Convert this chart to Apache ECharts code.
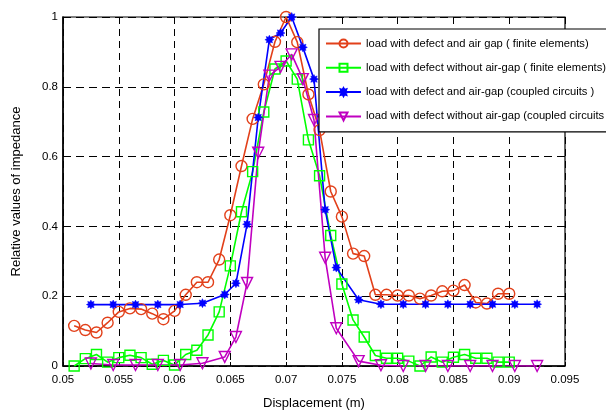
<!DOCTYPE html>
<html>
<head>
<meta charset="utf-8">
<script src="https://cdn.jsdelivr.net/npm/echarts@6/dist/echarts.min.js"></script>
<style>
html,body{margin:0;padding:0;background:#fff;}
#chart{width:606px;height:415px;}
</style>
</head>
<body>
<div id="chart"></div>
<script>
// Finite-element series x positions (m)
const feX = [0.051,0.052,0.053,0.054,0.055,0.056,0.057,0.058,0.059,0.060,
             0.061,0.062,0.063,0.064,0.065,0.066,0.067,0.068,0.069,0.070,
             0.071,0.072,0.073,0.074,0.075,0.076,0.077,0.078,0.079,0.080,
             0.081,0.082,0.083,0.084,0.085,0.086,0.087,0.088,0.089,0.090];
const redY = [0.115,0.103,0.096,0.124,0.155,0.165,0.163,0.150,0.134,0.158,
              0.204,0.240,0.240,0.305,0.432,0.573,0.708,0.807,0.929,1.000,
              0.928,0.778,0.676,0.500,0.428,0.322,0.315,0.204,0.204,0.202,
              0.202,0.193,0.202,0.214,0.216,0.232,0.182,0.179,0.207,0.207];
const greenY = [0.000,0.021,0.033,0.011,0.024,0.031,0.024,0.005,0.016,0.003,
                0.033,0.045,0.089,0.155,0.287,0.442,0.557,0.728,0.851,0.874,
                0.822,0.648,0.545,0.374,0.235,0.132,0.083,0.030,0.022,0.022,
                0.014,0.000,0.026,0.011,0.025,0.033,0.022,0.022,0.011,0.011];
// Coupled-circuit series x positions (m)
const ccX = [0.0525,0.0545,0.0565,0.0585,0.0605,0.0625,0.0645,0.0655,0.0665,0.0675,
             0.0685,0.0695,0.0705,0.0715,0.0725,0.0735,0.0745,0.0765,0.0785,0.0805,
             0.0825,0.0845,0.0865,0.0885,0.0905,0.0925];
const blueY = [0.176,0.176,0.176,0.176,0.176,0.180,0.205,0.237,0.406,0.712,
               0.935,0.954,1.000,0.913,0.822,0.448,0.282,0.190,0.177,0.177,
               0.177,0.177,0.177,0.177,0.177,0.177];
const magentaY = [0.007,0.003,0.003,0.003,0.003,0.008,0.026,0.083,0.238,0.611,
                  0.832,0.857,0.893,0.822,0.705,0.310,0.108,0.014,0.002,0.000,
                  0.000,0.000,0.000,0.000,0.000,0.000];
const seriesNames = [
  'load with defect and air gap ( finite elements)',
  'load with defect without air-gap ( finite elements)',
  'load with defect and air-gap (coupled circuits )',
  'load with defect without air-gap (coupled circuits )'
];
const xTicks = {min:0.05, max:0.095, step:0.005};
const yTicks = {min:0, max:1, step:0.2};

const pair = (xs, ys) => xs.map((x, i) => [x, ys[i]]);
const starPath = 'path://M0,-10L2.3,-5.5L7.07,-7.07L5.5,-2.3L10,0L5.5,2.3L7.07,7.07L2.3,5.5L0,10L-2.3,5.5L-7.07,7.07L-5.5,2.3L-10,0L-5.5,-2.3L-7.07,-7.07L-2.3,-5.5Z';
const font = "'Liberation Sans', Arial, sans-serif";

function mk(name, data, color, symbol, size, rotate, filled) {
  return {
    name: name, type: 'line', data: data,
    symbol: symbol, symbolSize: size, symbolRotate: rotate || 0,
    showAllSymbol: true,
    lineStyle: {color: color, width: 1.6},
    itemStyle: filled ? {color: color, borderColor: color, borderWidth: 0.5}
                      : {color: 'rgba(255,255,255,0)', borderColor: color, borderWidth: 1.4},
    emphasis: {disabled: true},
    animation: false
  };
}

const chart = echarts.init(document.getElementById('chart'), null, {renderer: 'canvas'});
const fmt = v => String(parseFloat(v.toFixed(4)));
chart.setOption({
  animation: false,
  backgroundColor: '#fff',
  grid: {left: 63, right: 41, top: 17, bottom: 43, show: true, borderColor: '#000', borderWidth: 1.2, backgroundColor: 'transparent'},
  xAxis: {
    type: 'value', min: xTicks.min, max: xTicks.max, interval: xTicks.step,
    name: 'Displacement (m)', nameLocation: 'middle', nameGap: 31,
    nameTextStyle: {fontFamily: font, fontSize: 13, color: '#000'},
    axisLine: {show: true, onZero: false, lineStyle: {color: '#000', width: 1.5}},
    axisTick: {show: true, inside: true, length: 4, lineStyle: {color: '#000'}},
    axisLabel: {formatter: fmt, fontFamily: font, fontSize: 11.5, color: '#000', margin: 8},
    splitLine: {show: true, lineStyle: {color: '#000', type: [7, 5], width: 1}}
  },
  yAxis: {
    type: 'value', min: yTicks.min, max: yTicks.max, interval: yTicks.step,
    name: 'Relative values of impedance', nameLocation: 'middle', nameGap: 40,
    nameTextStyle: {fontFamily: font, fontSize: 13, color: '#000'},
    axisLine: {show: true, lineStyle: {color: '#000', width: 1.5}},
    axisTick: {show: true, inside: true, length: 4, lineStyle: {color: '#000'}},
    axisLabel: {formatter: fmt, fontFamily: font, fontSize: 11.5, color: '#000', margin: 5},
    splitLine: {show: true, lineStyle: {color: '#000', type: [8, 5], width: 1}}
  },
  legend: {
    orient: 'vertical', left: 319, top: 29,
    backgroundColor: '#fff', borderColor: '#000', borderWidth: 1.2,
    padding: [9, 10, 10, 6], itemGap: 13.3, itemWidth: 35, itemHeight: 10,
    textStyle: {fontFamily: font, fontSize: 11.2, color: '#000'},
    data: seriesNames,
    selectedMode: false
  },
  series: [
    mk(seriesNames[0], pair(feX, redY), '#e2401a', 'circle', 11, 0, false),
    mk(seriesNames[1], pair(feX, greenY), '#00ff00', 'rect', 10, 0, false),
    mk(seriesNames[2], pair(ccX, blueY), '#0000ff', starPath, 9, 0, true),
    mk(seriesNames[3], pair(ccX, magentaY), '#c000c0', 'triangle', 11, 180, false)
  ]
});
</script>
</body>
</html>
